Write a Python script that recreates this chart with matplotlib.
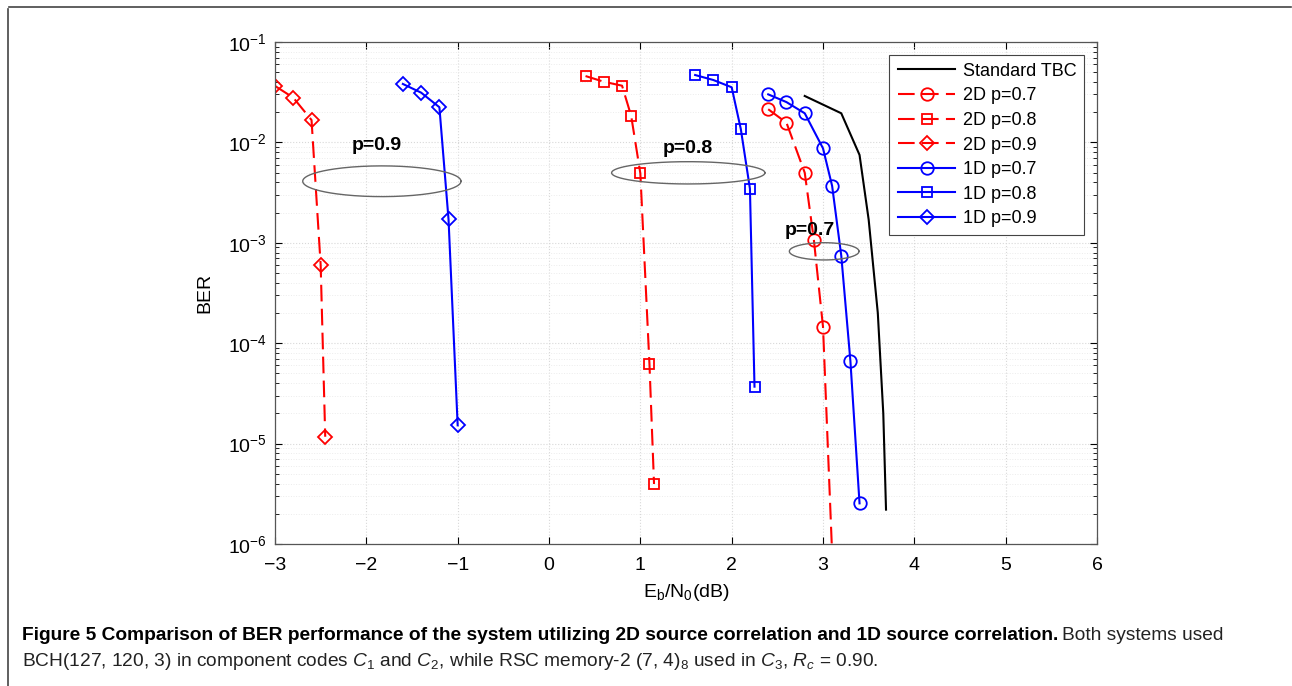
import numpy as np
import matplotlib
matplotlib.use('Agg')
import matplotlib.pyplot as plt
from matplotlib.lines import Line2D

plt.rcParams['font.family'] = ['Liberation Sans', 'DejaVu Sans']
plt.rcParams['mathtext.fontset'] = 'custom'
plt.rcParams['mathtext.rm'] = 'Liberation Sans'
plt.rcParams['mathtext.it'] = 'Liberation Sans:italic'
plt.rcParams['mathtext.bf'] = 'Liberation Sans:bold'

# data (Eb/N0 in dB, BER)
tbc_x = [2.8, 3.2, 3.4, 3.5, 3.6, 3.66, 3.69]
tbc_y = [0.029, 0.0195, 7.5e-3, 1.7e-3, 2.0e-4, 2.0e-5, 2.2e-6]

d2_p7_x = [2.4, 2.6, 2.8, 2.9, 3.0, 3.1]
d2_p7_y = [0.0214, 0.0157, 4.99e-3, 1.07e-3, 1.46e-4, 8e-7]
d2_p8_x = [0.4, 0.6, 0.8, 0.9, 1.0, 1.1, 1.15]
d2_p8_y = [0.0458, 0.0402, 0.0367, 0.0183, 4.92e-3, 6.17e-5, 3.96e-6]
d2_p9_x = [-3.0, -2.8, -2.6, -2.5, -2.45]
d2_p9_y = [0.0365, 0.0279, 0.0167, 6.0e-4, 1.17e-5]

d1_p7_x = [2.4, 2.6, 2.8, 3.0, 3.1, 3.2, 3.3, 3.4]
d1_p7_y = [0.0301, 0.0252, 0.0195, 8.73e-3, 3.68e-3, 7.45e-4, 6.65e-5, 2.54e-6]
d1_p8_x = [1.6, 1.8, 2.0, 2.1, 2.2, 2.25]
d1_p8_y = [0.0469, 0.0418, 0.0354, 0.0136, 3.46e-3, 3.69e-5]
d1_p9_x = [-1.6, -1.4, -1.2, -1.1, -1.0]
d1_p9_y = [0.0382, 0.0313, 0.0224, 1.71e-3, 1.52e-5]

# annotation ellipses: centre x, centre log10(BER), width (dB), height (decades)
ell_labels = ['p=0.9', 'p=0.8', 'p=0.7']
ell_cx = [-1.83, 1.525, 3.013]
ell_cy = [-2.387, -2.303, -3.085]
ell_w = [1.733, 1.679, 0.763]
ell_h = [0.306, 0.222, 0.172]
lab_x = [-1.883, 1.525, 2.852]
lab_y = [-2.026, -2.056, -2.880]

fig = plt.figure(figsize=(12.92, 6.86), dpi=100)
ax = fig.add_axes([275/1292, 1-544/686, (1097-275)/1292, (544-42)/686])

ax.semilogy(tbc_x, tbc_y, '-', color='k', lw=1.5, label='Standard TBC')
mk = dict(mfc='none', mew=1.3, lw=1.5)
dsh = (8, 3.5)
ax.semilogy(d2_p7_x, d2_p7_y, '--', color='#ff0000', marker='o', ms=9, dashes=dsh, label='2D p=0.7', **mk)
ax.semilogy(d2_p8_x, d2_p8_y, '--', color='#ff0000', marker='s', ms=6.5, dashes=dsh, label='2D p=0.8', **mk)
ax.semilogy(d2_p9_x, d2_p9_y, '--', color='#ff0000', marker='D', ms=7, dashes=dsh, label='2D p=0.9', **mk)
ax.semilogy(d1_p7_x, d1_p7_y, '-', color='#0000ff', marker='o', ms=9, label='1D p=0.7', **mk)
ax.semilogy(d1_p8_x, d1_p8_y, '-', color='#0000ff', marker='s', ms=6.5, label='1D p=0.8', **mk)
ax.semilogy(d1_p9_x, d1_p9_y, '-', color='#0000ff', marker='D', ms=7, label='1D p=0.9', **mk)

t = np.linspace(0, 2*np.pi, 200)
for lab, cx, cy, w, h, tx, ty in zip(ell_labels, ell_cx, ell_cy, ell_w, ell_h, lab_x, lab_y):
    ax.plot(cx + w/2*np.cos(t), 10**(cy + h/2*np.sin(t)), color='#666666', lw=1.0)
    ax.text(tx, 10**ty, lab, fontsize=14, fontweight='bold', ha='center', va='center')

ax.set_xlim(-3, 6)
ax.set_ylim(1e-6, 1e-1)
ax.set_xticks(np.arange(-3, 7, 1))
ax.set_xticklabels(['\u22123', '\u22122', '\u22121', '0', '1', '2', '3', '4', '5', '6'])
ax.tick_params(which='both', direction='in', top=True, right=True, labelsize=14)
ax.tick_params(axis='x', pad=9)
ax.tick_params(axis='y', pad=6)
ax.tick_params(which='major', length=5)
ax.tick_params(which='minor', length=3)
ax.grid(True, which='major', ls=':', color='#d8d8d8', lw=0.8)
ax.grid(True, which='minor', axis='y', ls=':', color='#ececec', lw=0.7)
for s in ax.spines.values():
    s.set_color('#555555')
    s.set_linewidth(0.9)

ax.set_xlabel(r'E$_\mathrm{b}$/N$_\mathrm{0}$(dB)', fontsize=14, labelpad=6)
ax.set_ylabel('BER', fontsize=14, labelpad=10)

leg = ax.legend(loc='upper right', fontsize=13, handlelength=3.2, handletextpad=0.4,
                borderpad=0.45, labelspacing=0.42, fancybox=False, framealpha=1,
                edgecolor='#444444', borderaxespad=0.7)
leg.get_frame().set_linewidth(0.8)

# figure frame (top and left edges)
fig.add_artist(Line2D([9/1292, 1291/1292], [1-7/686, 1-7/686], color='#444444', lw=1.2))
fig.add_artist(Line2D([8/1292, 8/1292], [0, 1-9/686], color='#444444', lw=1.2))

# caption
cap_fam = ['Liberation Sans Narrow', 'Liberation Sans']
renderer = fig.canvas.get_renderer()
x0 = 22/1292
fs = 13
b = fig.text(x0, 1-636/686, 'Figure 5 Comparison of BER performance of the system utilizing 2D source '
             'correlation and 1D source correlation.', family=cap_fam, fontweight='bold',
             fontsize=fs, va='center', ha='left')
bb = b.get_window_extent(renderer)
n = fig.text(bb.x1/1292 + 4/1292, 1-636/686, 'Both systems used', family=cap_fam,
             fontsize=fs, va='center', ha='left', color='#222222')
nb = n.get_window_extent(renderer)
scale = (1225 - 22) / (nb.x1 - bb.x0)
fs2 = fs*scale
b.set_fontsize(fs2)
bb = b.get_window_extent(renderer)
n.set_fontsize(fs2)
n.set_x(bb.x1/1292 + 4/1292)
fig.text(x0, 1-662/686, r'BCH(127, 120, 3) in component codes $C_1$ and $C_2$, while RSC memory-2 '
         r'(7, 4)$_8$ used in $C_3$, $R_c$ = 0.90.', family=cap_fam, fontsize=fs2,
         va='center', ha='left', color='#222222')

fig.savefig('out.png', dpi=100)
